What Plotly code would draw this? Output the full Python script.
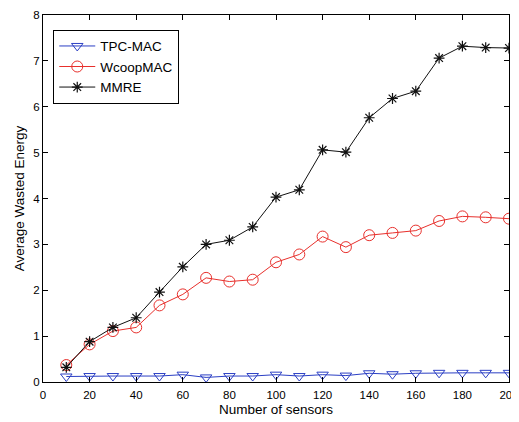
import plotly.graph_objects as go

sensors = [10, 20, 30, 40, 50, 60, 70, 80, 90, 100, 110, 120, 130, 140, 150, 160, 170, 180, 190, 200]
tpc_mac = [0.12, 0.13, 0.13, 0.13, 0.13, 0.16, 0.10, 0.13, 0.13, 0.16, 0.13, 0.16, 0.14, 0.19, 0.17, 0.19, 0.20, 0.20, 0.20, 0.20]
wcoop_mac = [0.37, 0.82, 1.11, 1.19, 1.67, 1.91, 2.27, 2.19, 2.23, 2.61, 2.78, 3.17, 2.94, 3.20, 3.25, 3.30, 3.51, 3.61, 3.59, 3.56]
mmre = [0.32, 0.88, 1.19, 1.40, 1.96, 2.51, 3.00, 3.09, 3.38, 4.03, 4.19, 5.06, 5.01, 5.76, 6.18, 6.34, 7.06, 7.32, 7.29, 7.28]

x_ticks = [0, 20, 40, 60, 80, 100, 120, 140, 160, 180, 200]
y_ticks = [0, 1, 2, 3, 4, 5, 6, 7, 8]

fig = go.Figure()
fig.add_trace(go.Scatter(x=sensors, y=tpc_mac, name="TPC-MAC", mode="lines+markers",
                         line=dict(color="#2b3fc4", width=1),
                         marker=dict(symbol="triangle-down-open", size=10, color="#2b3fc4", line=dict(width=1))))
fig.add_trace(go.Scatter(x=sensors, y=wcoop_mac, name="WcoopMAC", mode="lines+markers",
                         line=dict(color="#e8302c", width=1),
                         marker=dict(symbol="circle-open", size=11, color="#e8302c", line=dict(width=1))))
fig.add_trace(go.Scatter(x=sensors, y=mmre, name="MMRE", mode="lines+markers",
                         line=dict(color="#111111", width=1),
                         marker=dict(symbol="asterisk-open", size=9, color="#111111", line=dict(width=1.2))))

axis_common = dict(showgrid=False, zeroline=False, showline=True, linecolor="black", linewidth=1,
                   mirror="ticks", ticks="inside", ticklen=5, tickcolor="black", automargin=False,
                   ticklabeloverflow="allow",
                   tickfont=dict(family="Liberation Sans, Arial", size=11.5, color="black"))

fig.update_layout(
    width=511, height=414,
    margin=dict(l=35, r=10, t=7, b=40, autoexpand=False),
    paper_bgcolor="white", plot_bgcolor="white",
    font=dict(family="Liberation Sans, Arial", size=12, color="black"),
    xaxis=dict(range=[0, 200], tickvals=x_ticks, ticklabelstandoff=2,
               title=dict(text="Number of sensors", font=dict(size=13.5), standoff=4), **axis_common),
    yaxis=dict(range=[0, 8], tickvals=y_ticks,
               title=dict(text="Average Wasted Energy", font=dict(size=13.5), standoff=5), **axis_common),
    legend=dict(x=0.022, y=0.96, xanchor="left", yanchor="top",
                bordercolor="black", borderwidth=1, bgcolor="white",
                font=dict(size=13.5), tracegroupgap=0, itemwidth=36),
    showlegend=True,
)

fig.write_html("out.html")
